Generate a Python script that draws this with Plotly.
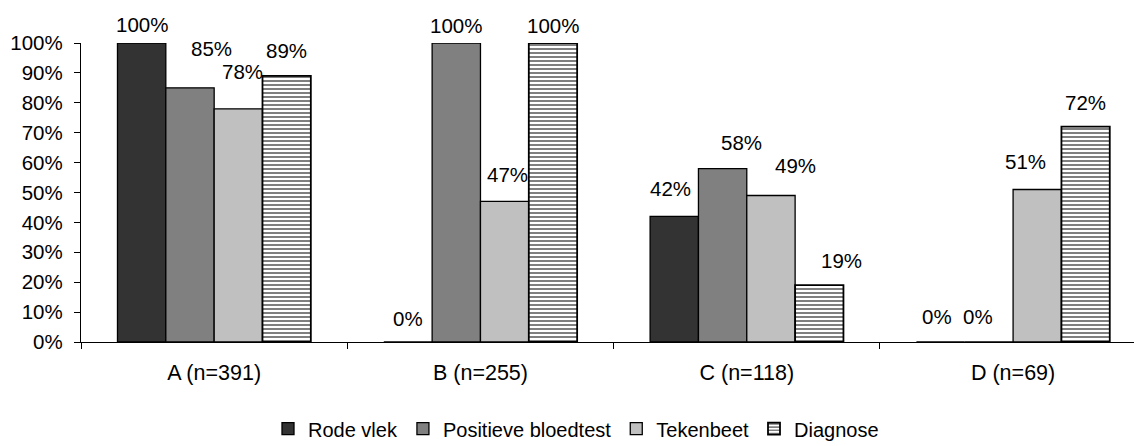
import plotly.graph_objects as go

# Groups and percentage per indicator
categories = ["A (n=391)", "B (n=255)", "C (n=118)", "D (n=69)"]
series_names = ["Rode vlek", "Positieve bloedtest", "Tekenbeet", "Diagnose"]
rode_vlek = [100, 0, 42, 0]
positieve_bloedtest = [85, 100, 58, 0]
tekenbeet = [78, 47, 49, 51]
diagnose = [89, 100, 19, 72]
y_ticks = [0, 10, 20, 30, 40, 50, 60, 70, 80, 90, 100]

series_values = [rode_vlek, positieve_bloedtest, tekenbeet, diagnose]
fills = ["#333333", "#808080", "#c0c0c0", "#ffffff"]

# Manual label nudges (px) per group: horizontal shift and height above bar top
label_dx = [[0, 22, 4, 0], [0, 0, 3, 0], [-4, 19, 25, 22], [-4, -11, -12, 0]]
label_dy = [[19, 39, 37, 25], [24, 18, 27, 18], [28, 26, 30, 25], [26, 26, 28, 24]]
label_dx = [list(col) for col in zip(*label_dx)]
label_dy = [list(col) for col in zip(*label_dy)]

FONT = "Liberation Sans, Arial, sans-serif"
bargap = 0.274
n_series = len(series_names)
bar_w = (1 - bargap) / n_series

fig = go.Figure()
x_idx = list(range(len(categories)))
for i, (name, vals, col) in enumerate(zip(series_names, series_values, fills)):
    marker = dict(color=col, line=dict(color="#000000", width=1.3))
    if i == 3:
        marker = dict(
            color="#ffffff",
            line=dict(color="#000000", width=1.8),
            pattern=dict(shape="-", fgcolor="#000000", bgcolor="#ffffff",
                         size=4, solidity=0.5),
        )
    fig.add_trace(go.Bar(name=name, x=x_idx, y=vals, marker=marker))

    for j, v in enumerate(vals):
        fig.add_annotation(
            x=j + (i - (n_series - 1) / 2) * bar_w, y=v,
            xref="x", yref="y",
            text=f"{v}%", showarrow=False,
            xshift=label_dx[i][j], yshift=label_dy[i][j],
            xanchor="center", yanchor="middle",
            font=dict(family=FONT, size=20.5, color="#000000"),
        )

fig.update_layout(
    width=1134, height=446,
    margin=dict(l=81, r=0, t=43, b=104, autoexpand=False),
    paper_bgcolor="#ffffff", plot_bgcolor="#ffffff",
    barmode="group", bargap=bargap, bargroupgap=0,
    font=dict(family=FONT, size=20.5, color="#000000"),
    showlegend=True,
    legend=dict(
        orientation="h", xref="container", x=576 / 1134, xanchor="center",
        yref="paper", y=-0.29, yanchor="middle",
        font=dict(family=FONT, size=20, color="#000000"),
        itemwidth=30, tracegroupgap=0,
        bgcolor="rgba(0,0,0,0)",
    ),
    xaxis=dict(
        range=[-0.5, 3.454],
        tickvals=x_idx, ticktext=categories,
        tickfont=dict(family=FONT, size=21.5, color="#000000"),
        ticks="", showgrid=False, zeroline=False,
        showline=True, linecolor="#000000", linewidth=1.3,
        ticklabelstandoff=11,
        minor=dict(tick0=-0.5, dtick=1, ticks="outside", ticklen=6,
                   tickcolor="#000000", tickwidth=1.3, showgrid=False),
    ),
    yaxis=dict(
        range=[0, 100], tickvals=y_ticks,
        ticktext=[f"{t}%" for t in y_ticks],
        tickfont=dict(family=FONT, size=20.5, color="#000000"),
        ticks="outside", ticklen=6, tickcolor="#000000", tickwidth=1.3,
        showgrid=False, zeroline=False,
        showline=True, linecolor="#000000", linewidth=1.3,
        ticklabelstandoff=7,
    ),
)

fig.write_html("out.html")
